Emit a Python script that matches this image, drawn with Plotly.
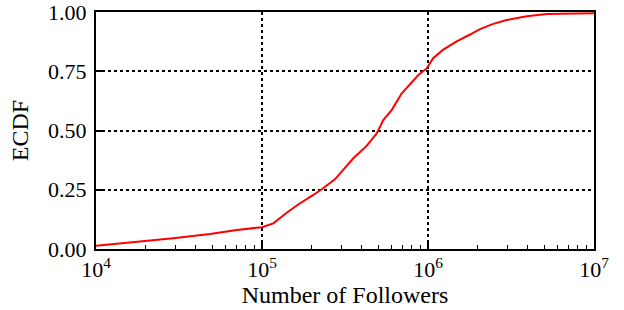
import plotly.graph_objects as go

followers = [10000, 14600, 20200, 29200, 48600, 70500, 100000, 117000, 141000, 166000,
             204000, 229000, 275000, 355000, 427000, 491000, 538000, 604000, 695000,
             780000, 875000, 982000, 1077000, 1236000, 1489000, 1791000, 2056000,
             2473000, 2978000, 3934000, 5190000, 10000000]
ecdf = [0.014, 0.024, 0.034, 0.045, 0.063, 0.080, 0.092, 0.108, 0.153, 0.189,
        0.228, 0.252, 0.294, 0.383, 0.435, 0.488, 0.544, 0.586, 0.657,
        0.696, 0.734, 0.762, 0.806, 0.841, 0.876, 0.905, 0.928,
        0.950, 0.966, 0.982, 0.992, 0.995]
x_ticks = [1e4, 1e5, 1e6, 1e7]
x_labels = ["10<sup>4</sup>", "10<sup>5</sup>", "10<sup>6</sup>", "10<sup>7</sup>"]
y_ticks = [0, 0.25, 0.5, 0.75, 1.0]
y_labels = ["0.00", "0.25", "0.50", "0.75", "1.00"]

FONT = "Liberation Serif"

fig = go.Figure()
fig.add_trace(go.Scatter(x=followers, y=ecdf, mode="lines",
                         line=dict(color="red", width=2), showlegend=False))

fig.update_layout(
    width=624, height=310,
    margin=dict(l=96, r=30, t=12, b=61, autoexpand=False),
    paper_bgcolor="white", plot_bgcolor="white",
    font=dict(family=FONT, size=22, color="black"),
)
fig.update_xaxes(
    type="log", range=[4, 7], tickvals=x_ticks, ticktext=x_labels,
    automargin=False, ticklabeloverflow="allow",
    showline=True, linecolor="black", linewidth=2, mirror=True,
    ticks="inside", ticklen=6, tickwidth=2, tickcolor="black",
    minor=dict(ticks="inside", ticklen=4, tickwidth=1, tickcolor="black", showgrid=False,
               dtick="D1"),
    showgrid=True, gridcolor="black", griddash="dot", gridwidth=1.5,
    zeroline=False,
    title=dict(text="Number of Followers", font=dict(size=24), standoff=4),
    tickfont=dict(size=22),
)
fig.update_yaxes(
    range=[0, 1], tickvals=y_ticks, ticktext=y_labels,
    automargin=False, ticklabeloverflow="allow",
    showline=True, linecolor="black", linewidth=2, mirror=True,
    ticks="inside", ticklen=6, tickwidth=2, tickcolor="black",
    ticklabelstandoff=3,
    showgrid=True, gridcolor="black", griddash="dot", gridwidth=1.5,
    zeroline=False,
    title=dict(text="ECDF", font=dict(size=24), standoff=13),
    tickfont=dict(size=22),
)

fig.write_html(
    "out.html",
    config={"displayModeBar": False},
    post_script="document.body.style.margin='0';document.body.style.overflow='hidden';",
)
